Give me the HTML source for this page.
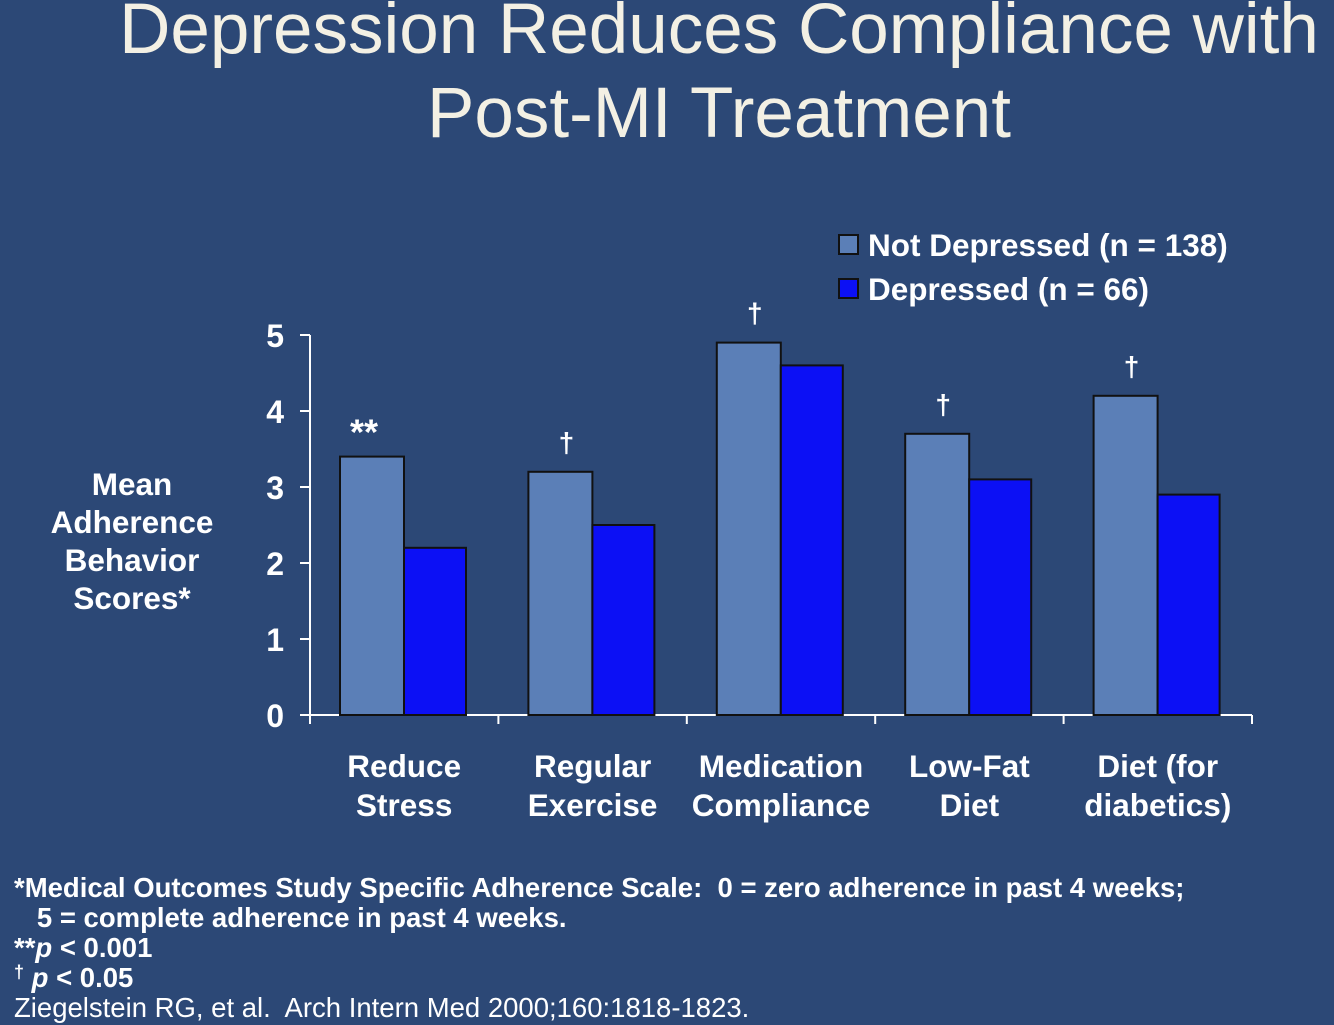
<!DOCTYPE html>
<html><head><meta charset="utf-8"><style>
body{margin:0;width:1334px;height:1025px;background:#2c4876;overflow:hidden;font-family:"Liberation Sans",sans-serif;color:#fff}
.t{position:absolute;left:0;width:1334px;text-align:center;color:#f3f0e4;font-size:71px;line-height:84px;white-space:nowrap}
.fn{position:absolute;left:14px;font-size:27.5px;font-weight:bold;line-height:30px;white-space:nowrap}
.dg{font-size:18px;position:relative;top:-9px}
</style></head><body>
<div class="t" style="top:-12px;left:52px">Depression Reduces Compliance with<br>Post-MI Treatment</div>
<svg width="1334" height="1025" style="position:absolute;left:0;top:0">
<g id="g"></g>
</svg>
<div class="fn" style="top:873px">*Medical Outcomes Study Specific Adherence Scale:&nbsp; 0 = zero adherence in past 4 weeks;<br>&nbsp;&nbsp;&nbsp;5 = complete adherence in past 4 weeks.<br>**<i>p</i> &lt; 0.001<br><span class="dg">†</span> <i>p</i> &lt; 0.05</div>
<div class="fn" style="top:993px;font-weight:normal">Ziegelstein RG, et al.&nbsp; Arch Intern Med 2000;160:1818-1823.</div>
<script>
const categories=[["Reduce","Stress"],["Regular","Exercise"],["Medication","Compliance"],["Low-Fat","Diet"],["Diet (for","diabetics)"]];
const notDepressed=[3.4,3.2,4.9,3.7,4.2];
const depressed=[2.2,2.5,4.6,3.1,2.9];
const sigMarks=["**","†","†","†","†"];
const yTicks=[0,1,2,3,4,5];
const g=document.getElementById('g');
const NS='http://www.w3.org/2000/svg';
const x0=310,x1=1252,yb=715,yt=335;
const y=v=>yb-(yb-yt)*v/5;
const cw=(x1-x0)/categories.length;
function mk(t,a,txt){const e=document.createElementNS(NS,t);for(const k in a)e.setAttribute(k,a[k]);if(txt!==undefined)e.textContent=txt;g.appendChild(e);return e;}
let e;
e=mk('line',{x1:x0,y1:yt,x2:x0,y2:yb+2,stroke:'#fff','stroke-width':2});


e=mk('line',{x1:x0,y1:yb,x2:x1,y2:yb,stroke:'#fff','stroke-width':2});


yTicks.forEach(v=>{
 mk('line',{x1:x0-10,y1:y(v),x2:x0,y2:y(v),stroke:'#fff','stroke-width':2});
 e=mk('text',{x:284,y:y(v)+12,'font-size':32,'font-weight':'bold',fill:'#fff','text-anchor':'end'},v);
 
 
});
for(let i=0;i<=categories.length;i++)mk('line',{x1:x0+i*cw,y1:yb,x2:x0+i*cw,y2:yb+9,stroke:'#fff','stroke-width':2});
categories.forEach((c,i)=>{
 const cx=x0+i*cw;
 e=mk('rect',{x:cx+30,y:y(notDepressed[i]),width:64,height:yb-y(notDepressed[i]),fill:'#5b7fb7',stroke:'#111','stroke-width':2});
 
 
 e=mk('rect',{x:cx+94,y:y(depressed[i]),width:62,height:yb-y(depressed[i]),fill:'#0c10f5',stroke:'#111','stroke-width':2});
 
 
 const sm=sigMarks[i]==="**";
 e=mk('text',{x:cx+(sm?54:68),y:y(notDepressed[i])-(sm?12:20),'font-size':sm?36:28,'font-weight':'bold',fill:'#fff','text-anchor':'middle'},sigMarks[i]);
 
 
 c.forEach((l,j)=>{
  e=mk('text',{x:cx+cw/2,y:777+j*39,'font-size':31.5,'font-weight':'bold',fill:'#fff','text-anchor':'middle'},l);
  
  
 });
});
["Mean","Adherence","Behavior","Scores*"].forEach((l,j)=>{
 e=mk('text',{x:132,y:495+j*38,'font-size':31.5,'font-weight':'bold',fill:'#fff','text-anchor':'middle'},l);
 
 
});
[["#5b7fb7","Not Depressed (n = 138)"],["#0c10f5","Depressed (n = 66)"]].forEach((L,j)=>{
 e=mk('rect',{x:839,y:235+j*44,width:19,height:19,fill:L[0],stroke:'#111','stroke-width':2});
 
 
 e=mk('text',{x:868,y:256+j*44,'font-size':31.5,'font-weight':'bold',fill:'#fff'},L[1]);
 
 
});
</script>
</body></html>
